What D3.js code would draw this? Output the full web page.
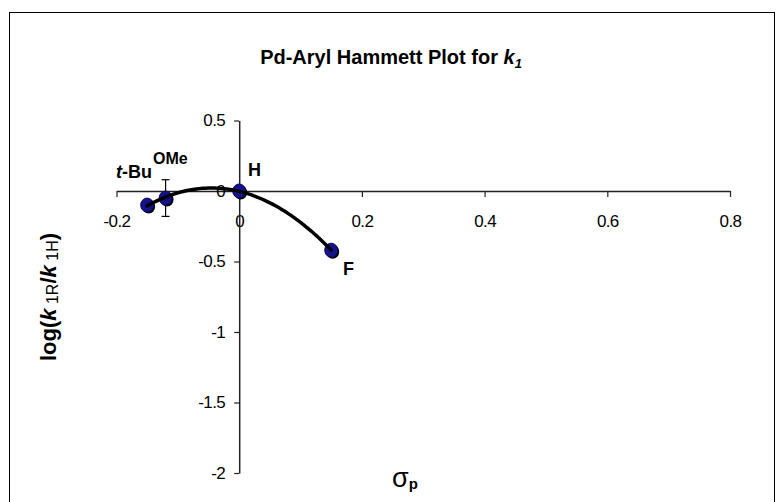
<!DOCTYPE html>
<html>
<head>
<meta charset="utf-8">
<script src="https://cdn.jsdelivr.net/npm/d3@7"></script>
<style>
  html, body { margin: 0; padding: 0; background: #fff; }
  svg { display: block; font-family: "Liberation Sans", Arial, sans-serif; }
</style>
</head>
<body>
<svg id="chart" width="780" height="502"></svg>
<script>
// Substituents and their Hammett data
const substituents = ["t-Bu", "OMe", "H", "F"];
const sigmaP = [-0.15, -0.12, 0, 0.15];
const logRatio = [-0.10, -0.05, 0, -0.42];
const errorBar = [0, 0.13, 0, 0];

const xTicks = [-0.2, 0, 0.2, 0.4, 0.6, 0.8];
const yTicks = [0.5, 0, -0.5, -1, -1.5, -2];

const svg = d3.select("#chart");

// Chart frame
svg.append("rect")
  .attr("x", 9.5).attr("y", 12.5)
  .attr("width", 765).attr("height", 520)
  .attr("fill", "#fff").attr("stroke", "#000").attr("stroke-width", 1);

const x = d3.scaleLinear().domain([-0.2, 0.8]).range([116.5, 730]);
const y = d3.scaleLinear().domain([-2, 0.5]).range([473, 120.5]);

// Title
const title = svg.append("text")
  .attr("x", 391).attr("y", 64)
  .attr("text-anchor", "middle")
  .attr("font-size", 20).attr("font-weight", "bold").attr("fill", "#000");
title.append("tspan").text("Pd-Aryl Hammett Plot for ");
title.append("tspan").attr("font-style", "italic").text("k");
title.append("tspan").attr("font-style", "italic").attr("font-size", 13).attr("dy", 4).text("1");

// Axes (crossing at the origin)
const xAxis = d3.axisBottom(x).tickValues(xTicks)
  .tickFormat(d => d === 0 ? "0" : d3.format(".1f")(d).replace("−", "-"))
  .tickSizeInner(6).tickSizeOuter(0).tickPadding(18);
const yAxis = d3.axisLeft(y).tickValues(yTicks)
  .tickFormat(d => String(d))
  .tickSizeInner(5).tickSizeOuter(0).tickPadding(9);

const gx = svg.append("g").attr("transform", `translate(0,${y(0)})`).call(xAxis);
const gy = svg.append("g").attr("transform", `translate(${x(0)},0)`).call(yAxis);

[gx, gy].forEach(g => {
  g.selectAll(".domain").attr("stroke", "#222").attr("stroke-width", 1.5);
  g.selectAll(".tick line").attr("stroke", "#222").attr("stroke-width", 1.2);
  g.selectAll(".tick text")
    .attr("font-family", "'Liberation Sans', Arial, sans-serif")
    .attr("font-size", 17).attr("letter-spacing", -0.6).attr("fill", "#000");
});
// keep the vertical axis line above the x tick labels
gy.raise();

// Axis titles
const yTitle = svg.append("text")
  .attr("transform", "translate(56,297) rotate(-90)")
  .attr("text-anchor", "middle")
  .attr("font-size", 22).attr("font-weight", "bold").attr("fill", "#000");
yTitle.append("tspan").text("log(");
yTitle.append("tspan").attr("font-style", "italic").text("k");
yTitle.append("tspan").attr("font-size", 16).attr("font-weight", "normal").attr("dy", 2).text(" 1R");
yTitle.append("tspan").attr("dy", -2).text("/");
yTitle.append("tspan").attr("font-style", "italic").text("k");
yTitle.append("tspan").attr("font-size", 16).attr("font-weight", "normal").attr("dy", 2).text(" 1H");
yTitle.append("tspan").attr("dy", -2).text(")");

const xTitle = svg.append("text")
  .attr("x", 405).attr("y", 487)
  .attr("text-anchor", "middle").attr("fill", "#000");
xTitle.append("tspan").attr("font-size", 27).text("σ");
xTitle.append("tspan").attr("font-size", 15).attr("font-weight", "bold").attr("dy", 2).text("p");

// Data rows
const rows = substituents.map((s, i) => ({ s, sx: sigmaP[i], ly: logRatio[i], e: errorBar[i] }));

// Error bars
const eb = svg.append("g").attr("stroke", "#000").attr("stroke-width", 1.2);
rows.filter(d => d.e > 0).forEach(d => {
  const cx = x(d.sx);
  eb.append("line").attr("x1", cx).attr("x2", cx).attr("y1", y(d.ly + d.e)).attr("y2", y(d.ly - d.e));
  eb.append("line").attr("x1", cx - 4).attr("x2", cx + 4).attr("y1", y(d.ly + d.e)).attr("y2", y(d.ly + d.e));
  eb.append("line").attr("x1", cx - 4).attr("x2", cx + 4).attr("y1", y(d.ly - d.e)).attr("y2", y(d.ly - d.e));
});

// Markers with a dark shadow
const mk = svg.append("g");
rows.forEach(d => {
  mk.append("ellipse").attr("cx", x(d.sx) + 1.5).attr("cy", y(d.ly) + 1.5)
    .attr("rx", 6.5).attr("ry", 7).attr("fill", "#000");
  mk.append("ellipse").attr("cx", x(d.sx)).attr("cy", y(d.ly))
    .attr("rx", 6.5).attr("ry", 7).attr("fill", "#14148a").attr("stroke", "#0a0a5a").attr("stroke-width", 1);
});

// Second-order polynomial trendline fitted by least squares
function polyFit2(xs, ys) {
  let S = [0, 0, 0, 0, 0], T = [0, 0, 0];
  xs.forEach((xv, i) => {
    for (let k = 0; k < 5; k++) S[k] += Math.pow(xv, k);
    for (let k = 0; k < 3; k++) T[k] += ys[i] * Math.pow(xv, k);
  });
  const A = [[S[0], S[1], S[2], T[0]], [S[1], S[2], S[3], T[1]], [S[2], S[3], S[4], T[2]]];
  for (let c = 0; c < 3; c++) {
    for (let r = c + 1; r < 3; r++) {
      const f = A[r][c] / A[c][c];
      for (let k = c; k < 4; k++) A[r][k] -= f * A[c][k];
    }
  }
  const sol = [0, 0, 0];
  for (let r = 2; r >= 0; r--) {
    let s = A[r][3];
    for (let k = r + 1; k < 3; k++) s -= A[r][k] * sol[k];
    sol[r] = s / A[r][r];
  }
  return sol;
}
const [c0, c1, c2] = polyFit2(sigmaP, logRatio);
const xMin = d3.min(sigmaP), xMax = d3.max(sigmaP);
const curve = d3.range(0, 61).map(i => {
  const xv = xMin + (xMax - xMin) * i / 60;
  return [xv, c0 + c1 * xv + c2 * xv * xv];
});
svg.append("path")
  .attr("d", d3.line().x(d => x(d[0])).y(d => y(d[1]))(curve))
  .attr("fill", "none").attr("stroke", "#000").attr("stroke-width", 3.5)
  .attr("stroke-linecap", "round");

// Point labels
const lab = svg.append("g").attr("font-weight", "bold").attr("fill", "#000");
const tb = lab.append("text").attr("x", 116).attr("y", 178).attr("font-size", 18);
tb.append("tspan").attr("font-style", "italic").text("t");
tb.append("tspan").text("-Bu");
lab.append("text").attr("x", 153).attr("y", 164).attr("font-size", 16).text("OMe");
lab.append("text").attr("x", 248).attr("y", 176).attr("font-size", 18).text("H");
lab.append("text").attr("x", 343).attr("y", 275).attr("font-size", 18).text("F");
</script>
</body>
</html>
